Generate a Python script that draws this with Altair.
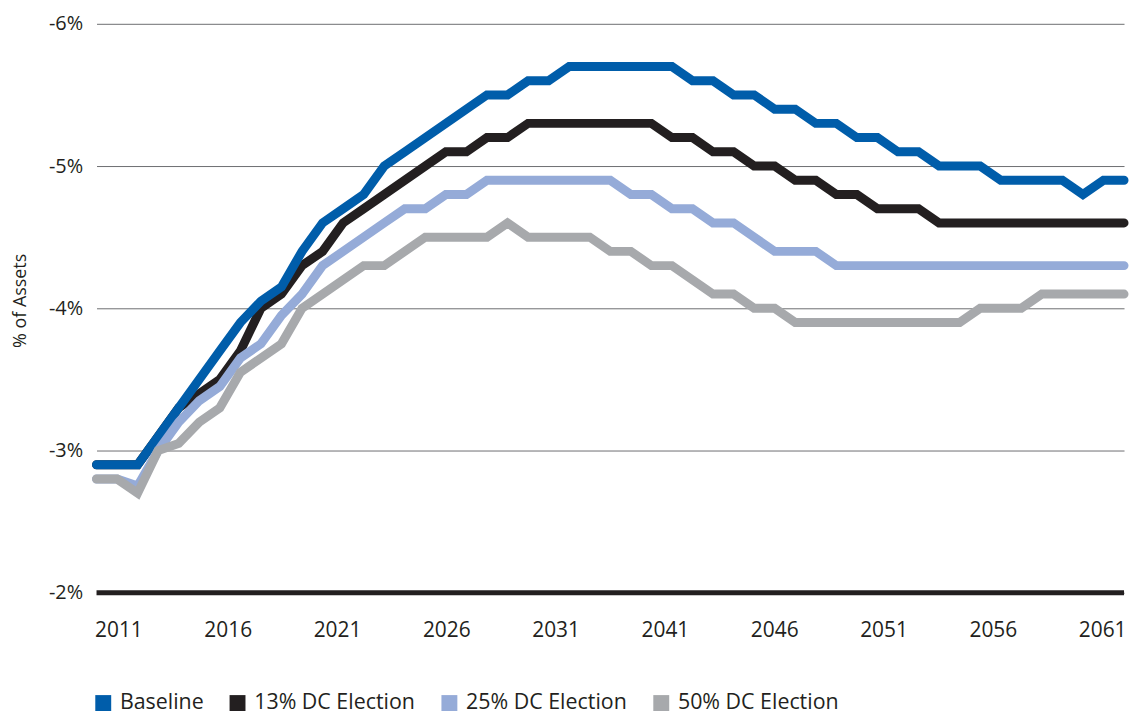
import altair as alt
import pandas as pd

years = list(range(2011, 2062))

baseline = [-2.9, -2.9, -2.9, -3.1, -3.3, -3.5, -3.7, -3.9, -4.05, -4.15,
            -4.4, -4.6, -4.7, -4.8, -5.0, -5.1, -5.2, -5.3, -5.4, -5.5,
            -5.5, -5.6, -5.6, -5.7, -5.7, -5.7, -5.7, -5.7, -5.7, -5.6,
            -5.6, -5.5, -5.5, -5.4, -5.4, -5.3, -5.3, -5.2, -5.2, -5.1,
            -5.1, -5.0, -5.0, -5.0, -4.9, -4.9, -4.9, -4.9, -4.8, -4.9,
            -4.9]
dc13 = [-2.9, -2.9, -2.9, -3.1, -3.3, -3.4, -3.5, -3.7, -4.0, -4.1,
        -4.3, -4.4, -4.6, -4.7, -4.8, -4.9, -5.0, -5.1, -5.1, -5.2,
        -5.2, -5.3, -5.3, -5.3, -5.3, -5.3, -5.3, -5.3, -5.2, -5.2,
        -5.1, -5.1, -5.0, -5.0, -4.9, -4.9, -4.8, -4.8, -4.7, -4.7,
        -4.7, -4.6, -4.6, -4.6, -4.6, -4.6, -4.6, -4.6, -4.6, -4.6,
        -4.6]
dc25 = [-2.8, -2.8, -2.75, -3.0, -3.2, -3.35, -3.45, -3.65, -3.75, -3.95,
        -4.1, -4.3, -4.4, -4.5, -4.6, -4.7, -4.7, -4.8, -4.8, -4.9,
        -4.9, -4.9, -4.9, -4.9, -4.9, -4.9, -4.8, -4.8, -4.7, -4.7,
        -4.6, -4.6, -4.5, -4.4, -4.4, -4.4, -4.3, -4.3, -4.3, -4.3,
        -4.3, -4.3, -4.3, -4.3, -4.3, -4.3, -4.3, -4.3, -4.3, -4.3,
        -4.3]
dc50 = [-2.8, -2.8, -2.7, -3.0, -3.05, -3.2, -3.3, -3.55, -3.65, -3.75,
        -4.0, -4.1, -4.2, -4.3, -4.3, -4.4, -4.5, -4.5, -4.5, -4.5,
        -4.6, -4.5, -4.5, -4.5, -4.5, -4.4, -4.4, -4.3, -4.3, -4.2,
        -4.1, -4.1, -4.0, -4.0, -3.9, -3.9, -3.9, -3.9, -3.9, -3.9,
        -3.9, -3.9, -3.9, -4.0, -4.0, -4.0, -4.1, -4.1, -4.1, -4.1,
        -4.1]

series_names = ["Baseline", "13% DC Election", "25% DC Election", "50% DC Election"]
series_colors = ["#005DAA", "#231F20", "#95ABD8", "#A7A9AC"]
# drawing order (bottom to top) as in the reference
draw_order = ["13% DC Election", "Baseline", "25% DC Election", "50% DC Election"]
x_labels = ["2011", "2016", "2021", "2026", "2031", "2041", "2046", "2051", "2056", "2061"]
y_ticks = [-6, -5, -4, -3, -2]
baseline_rule = [-2]

series_values = dict(zip(series_names, [baseline, dc13, dc25, dc50]))
rows = []
for name in draw_order:
    for yr, v in zip(years, series_values[name]):
        rows.append({"year": yr, "value": v, "series": name})
df = pd.DataFrame(rows)

FONT = "Open Sans"
TXT = "#231F20"
W, H = 1033, 572

yscale = alt.Scale(domain=[-6, -2], reverse=True, nice=False, zero=False)

rule = alt.Chart(pd.DataFrame({"v": baseline_rule})).mark_rule(
    color=TXT, strokeWidth=5
).encode(y=alt.Y("v:Q", scale=yscale))

lines = alt.Chart(df).mark_line(
    strokeWidth=9, strokeCap="round", strokeJoin="miter"
).encode(
    x=alt.X("year:Q", scale=alt.Scale(domain=[2011, 2061], nice=False, zero=False), axis=None),
    y=alt.Y(
        "value:Q",
        scale=yscale,
        axis=alt.Axis(
            values=y_ticks,
            labelExpr="datum.value + '%'",
            title="% of Assets",
            grid=True,
            gridColor="#6D6E71",
            gridWidth=1,
            domain=False,
            ticks=False,
            labelPadding=14,
            labelFontSize=20,
            labelFont=FONT,
            labelColor=TXT,
            titleFont=FONT,
            titleFontSize=18,
            titleFontWeight="normal",
            titleColor=TXT,
            titleX=-76,
            titleY=278,
            titleAngle=270,
            titleAlign="center",
            titleBaseline="middle",
        ),
    ),
    color=alt.Color(
        "series:N",
        sort=series_names,
        scale=alt.Scale(domain=series_names, range=series_colors),
        legend=alt.Legend(
            title=None,
            orient="none",
            legendX=-4,
            legendY=672,
            direction="horizontal",
            symbolType="square",
            symbolSize=64,
            symbolStrokeWidth=8,
            labelFont=FONT,
            labelFontSize=21.5,
            labelLimit=400,
            labelColor=TXT,
            labelOffset=6,
            columnPadding=13,
        ),
    ),
)

labels = alt.Chart(pd.DataFrame({"label": x_labels})).mark_text(opacity=0).encode(
    x=alt.X(
        "label:N",
        sort=x_labels,
        scale=alt.Scale(type="point", padding=0.2),
        axis=alt.Axis(
            title=None,
            labelAngle=0,
            ticks=False,
            domain=False,
            grid=False,
            labelPadding=38,
            labelBaseline="middle",
            labelFontSize=21,
            labelFont=FONT,
            labelColor=TXT,
        ),
    ),
    text="label:N",
)

chart = alt.layer(rule, lines, labels).resolve_scale(x="independent").properties(
    width=W,
    height=H,
    autosize="none",
    padding={"left": 89, "top": 14, "right": 6, "bottom": 121},
).configure_view(stroke=None)

chart.save("out.html", embed_options={"renderer": "svg", "actions": False})
